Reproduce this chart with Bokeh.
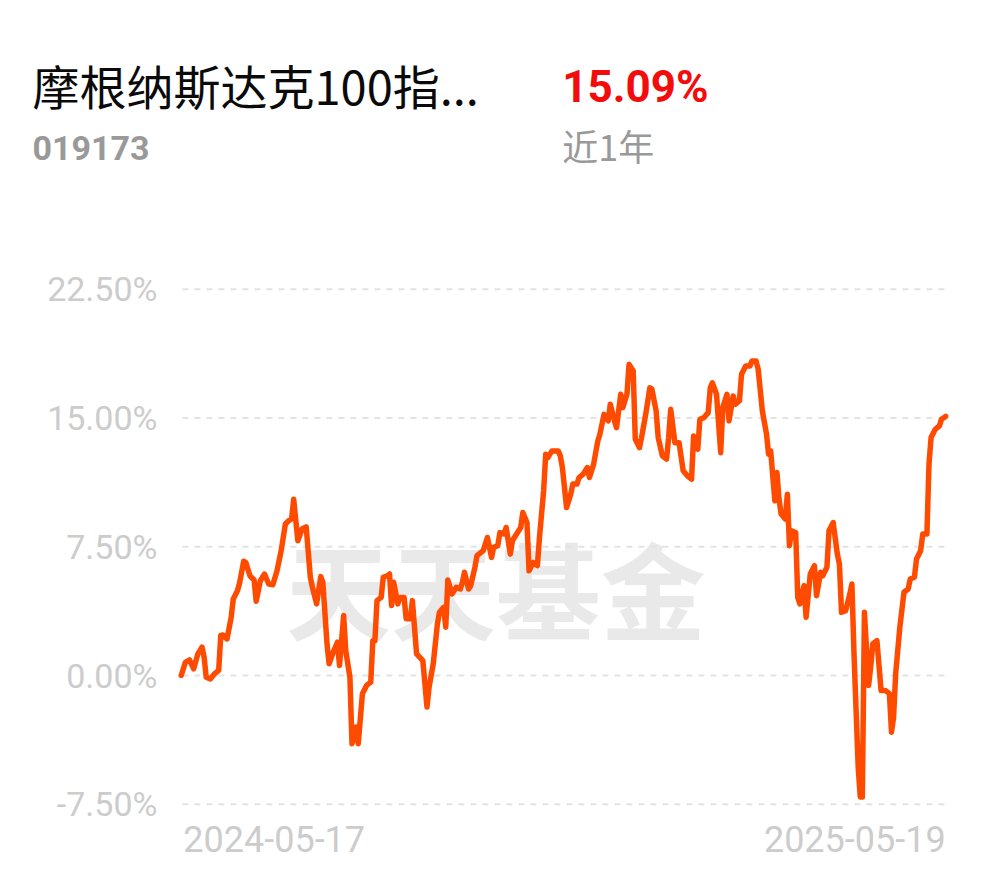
from bokeh.plotting import figure
from bokeh.models import Label, Range1d
from bokeh.embed import file_html
from bokeh.resources import INLINE

# ---- data ----
fund_name = "摩根纳斯达克100指..."
fund_code = "019173"
period_return = "15.09%"
period_label = "近1年"
start_label = "2024-05-17"
end_label = "2025-05-19"
total_days = 367
y_ticks = [-7.5, 0.0, 7.5, 15.0, 22.5]
y_tick_labels = ["-7.50%", "0.00%", "7.50%", "15.00%", "22.50%"]

days = [0, 2, 4, 6, 8, 10, 11, 12, 14, 16, 18, 19, 20, 22, 24, 25, 27, 28, 30, 31,
        33, 35, 36, 38, 40, 42, 44, 46, 48, 50, 52, 53, 54, 56, 58, 60, 62, 63, 65, 67,
        68, 70, 71, 73, 75, 76, 78, 79, 81, 82, 84, 85, 87, 89, 91, 92, 93, 94, 96, 97,
        99, 100, 101, 102, 104, 105, 107, 108, 110, 111, 113, 115, 116, 118, 119, 121, 123, 124, 126, 127,
        128, 130, 132, 134, 135, 136, 138, 139, 141, 142, 145, 147, 149, 150, 152, 153, 155, 156, 158, 159,
        161, 163, 164, 166, 167, 169, 171, 172, 174, 175, 176, 178, 181, 182, 183, 185, 187, 188, 190, 191,
        193, 195, 196, 198, 200, 201, 203, 205, 206, 208, 209, 211, 212, 214, 215, 217, 218, 220, 221, 223,
        225, 226, 228, 229, 231, 233, 234, 235, 237, 239, 241, 243, 245, 246, 248, 249, 251, 253, 254, 255,
        257, 259, 260, 262, 263, 265, 266, 268, 269, 271, 273, 274, 276, 277, 279, 281, 282, 283, 285, 286,
        287, 288, 290, 291, 292, 293, 295, 296, 297, 299, 300, 302, 304, 305, 307, 308, 310, 311, 313, 315,
        316, 317, 319, 321, 322, 323, 325, 326, 327, 328, 330, 331, 332, 334, 336, 338, 340, 341, 342, 343,
        345, 347, 349, 350, 352, 353, 355, 356, 358, 359, 360, 362, 364, 365, 367]

returns = [0.00, 0.77, 0.91, 0.39, 1.26, 1.65, 1.07, -0.10, -0.20, 0.10, 0.30, 2.33, 2.36, 2.13, 3.39, 4.46, 4.94, 5.37, 6.65, 6.59,
           5.81, 5.56, 4.32, 5.52, 5.91, 5.33, 5.29, 6.10, 7.27, 8.82, 9.05, 9.11, 10.27, 7.85, 8.53, 8.66, 5.72, 5.13, 4.17, 5.76,
           5.43, 1.84, 0.68, 1.36, 1.94, 0.58, 3.49, 1.45, -0.10, -3.97, -3.00, -3.97, -1.06, -0.58, -0.39, 2.03, 2.03, 4.36, 4.55, 5.72,
           5.81, 5.91, 4.07, 5.43, 4.17, 4.55, 4.55, 3.30, 3.30, 4.36, 1.26, 1.00, 0.87, -1.84, -0.68, 0.68, 3.00, 3.68, 3.97, 2.81,
           5.56, 4.75, 5.13, 5.04, 5.43, 6.01, 5.04, 5.23, 6.30, 6.98, 7.27, 8.04, 6.88, 7.46, 7.56, 8.33, 8.24, 8.62, 7.07, 7.85,
           8.24, 8.62, 9.49, 8.91, 6.10, 6.59, 6.40, 8.04, 10.76, 12.89, 12.69, 13.08, 13.08, 12.79, 12.11, 9.78, 10.56, 11.15, 11.15, 11.53,
           11.73, 12.11, 11.53, 12.31, 13.66, 14.05, 15.21, 14.83, 15.80, 14.83, 14.44, 16.38, 15.60, 16.38, 18.12, 17.73, 13.76, 13.27, 13.86, 15.21,
           16.76, 16.67, 15.41, 13.86, 12.79, 12.60, 13.86, 15.50, 13.56, 13.56, 11.92, 11.63, 11.43, 13.95, 13.18, 14.92, 15.02, 15.31, 16.76, 17.05,
           16.38, 12.98, 15.60, 16.38, 14.83, 16.28, 15.80, 15.99, 17.54, 18.02, 18.02, 18.31, 18.31, 17.83, 15.41, 14.05, 12.89, 13.08, 10.17, 11.82,
           10.27, 9.40, 9.11, 10.56, 7.56, 8.43, 8.33, 4.55, 4.17, 5.23, 3.39, 5.91, 6.40, 4.65, 6.01, 5.81, 6.30, 8.43, 8.91, 7.07,
           6.49, 3.68, 3.78, 4.75, 5.33, 1.26, -5.33, -7.07, -7.07, 3.68, -0.58, 0.48, 1.84, 2.03, -0.87, -0.87, -1.06, -3.30, -2.42, 0.10,
           2.81, 4.85, 5.04, 5.62, 5.72, 6.78, 7.27, 8.24, 8.24, 12.31, 13.86, 14.34, 14.54, 14.92, 15.09]

# ---- figure: the frame fills the whole canvas; texts are placed in data space ----
W, H = 982, 872
PX_PER_DAY = 2.083
PX_PER_PCT = 17.17
X0_PX, Y0_PX = 180.7, 675.0   # pixel position of (day 0, 0%)
x_start = -X0_PX / PX_PER_DAY
y_top = Y0_PX / PX_PER_PCT

p = figure(width=W, height=H, output_backend="svg", toolbar_location=None,
           x_range=Range1d(x_start, x_start + W / PX_PER_DAY),
           y_range=Range1d(y_top - H / PX_PER_PCT, y_top),
           min_border=0)
p.axis.visible = False
p.grid.visible = False
p.outline_line_color = None
p.background_fill_color = "white"
p.border_fill_color = "white"

# dashed grid lines at the y ticks
p.segment(x0=[0.6] * len(y_ticks), y0=y_ticks, x1=[total_days] * len(y_ticks), y1=y_ticks,
          line_color="#e3e3e3", line_width=2, line_dash="6 6")

# y tick labels
for t, lab in zip(y_ticks, y_tick_labels):
    p.add_layout(Label(x=-11.4, y=t, text=lab, text_align="right", text_baseline="middle",
                       text_font="Roboto", text_font_size="34px", text_color="#cccccc"))

# watermark
p.add_layout(Label(x=151, y=5.2, text="天天基金", text_align="center", text_baseline="middle",
                   text_font="Noto Sans CJK SC", text_font_style="bold", text_font_size="105px",
                   text_color="#e9e9e9", level="underlay"))

p.line(days, returns, line_color="#ff4b00", line_width=5.5, line_join="round", line_cap="round")

# x labels
p.add_layout(Label(x=days[0] + 1, y=-9.55, text=start_label, text_align="left", text_baseline="middle",
                   text_font="Roboto", text_font_size="36px", text_color="#cccccc"))
p.add_layout(Label(x=total_days, y=-9.55, text=end_label, text_align="right", text_baseline="middle",
                   text_font="Roboto", text_font_size="36px", text_color="#cccccc"))

# header texts
p.add_layout(Label(x=-71.4, y=34.42, text=fund_name, text_align="left", text_baseline="middle",
                   text_font="Noto Sans CJK SC", text_font_size="47px", text_color="#0a0a0a"))
p.add_layout(Label(x=182.9, y=34.30, text=period_return, text_align="left", text_baseline="middle",
                   text_font="Roboto", text_font_style="bold", text_font_size="44px",
                   text_color="#f20c0c"))
p.add_layout(Label(x=-71.4, y=30.75, text=fund_code, text_align="left", text_baseline="middle",
                   text_font="Roboto", text_font_style="bold", text_font_size="34px",
                   text_color="#999999"))
p.add_layout(Label(x=182.9, y=30.90, text=period_label, text_align="left", text_baseline="middle",
                   text_font="Noto Sans CJK SC", text_font_size="36px", text_color="#999999"))

open("out.html", "w").write(file_html(p, INLINE))
